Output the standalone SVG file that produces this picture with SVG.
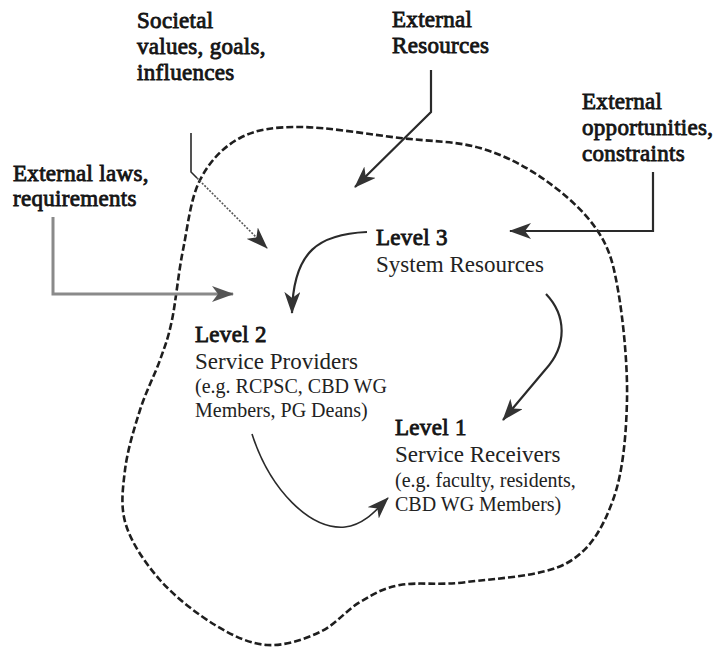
<svg xmlns="http://www.w3.org/2000/svg" width="725" height="648" viewBox="0 0 725 648">
<defs>
<style>
.b{font-family:"Liberation Serif","Times New Roman",serif;font-weight:normal;font-size:23px;fill:#151515;stroke:#151515;stroke-width:0.85;letter-spacing:0.3px}
.r{font-family:"Liberation Serif","Times New Roman",serif;font-size:23px;fill:#222}
.s{font-family:"Liberation Serif","Times New Roman",serif;font-size:20px;fill:#222}
.arr{fill:none;stroke:#2a2a2a;stroke-width:2.2}
.thin{fill:none;stroke:#2a2a2a;stroke-width:1.6}
.gray{fill:none;stroke:#8a8a8a;stroke-width:3}
.dot{fill:none;stroke:#555;stroke-width:1.6;stroke-dasharray:2 1.5}
.blob{fill:none;stroke:#1e1e1e;stroke-width:2.6;stroke-dasharray:7 3}
</style>
<marker id="ah" viewBox="0 0 22 16" markerUnits="userSpaceOnUse" markerWidth="22" markerHeight="16" refX="21" refY="8" orient="auto">
<path d="M0,0 L22,8 L0,16 L6,8 Z" fill="#333"/>
</marker>
<marker id="ahg" viewBox="0 0 22 16" markerUnits="userSpaceOnUse" markerWidth="22" markerHeight="16" refX="21" refY="8" orient="auto">
<path d="M0,0 L22,8 L0,16 L6,8 Z" fill="#555"/>
</marker>
</defs>
<rect width="725" height="648" fill="#fff"/>

<g id="boundary">
<path class="blob" d="M172,320 C175.8,301.7 178.3,273.3 183,250 C187.7,226.7 190.5,198.7 200,180 C209.5,161.3 223.3,146.8 240,138 C256.7,129.2 273.3,127 300,127 C326.7,127 370,134.5 400,138 C430,141.5 455.8,141 480,148 C504.2,155 525.5,166.3 545,180 C564.5,193.7 584.8,211.7 597,230 C609.2,248.3 613,261.7 618,290 C623,318.3 627.8,365 627,400 C626.2,435 623,472.8 613,500 C603,527.2 591.3,549.3 567,563 C542.7,576.7 494.8,578.3 467,582 C439.2,585.7 417.8,581.7 400,585 C382.2,588.3 373.3,594.2 360,602 C346.7,609.8 335.5,624.8 320,632 C304.5,639.2 284.5,646.2 267,645 C249.5,643.8 232.8,635.8 215,625 C197.2,614.2 174.8,596.7 160,580 C145.2,563.3 131.8,543.3 126,525 C120.2,506.7 122.7,489.2 125,470 C127.3,450.8 134.2,428.3 140,410 C145.8,391.7 154.7,375 160,360 C165.3,345 168.2,338.3 172,320 Z"/>
</g>

<g id="connectors">
<path class="thin" d="M191,133 V172 L197,178"/>
<path class="dot" d="M197,178 L267,248" marker-end="url(#ah)"/>
<path class="arr" d="M431,70 V112 L355,187" marker-end="url(#ah)"/>
<path class="arr" d="M653,172 V231 H510" marker-end="url(#ah)"/>
<path class="gray" d="M53,217 V294 H233" marker-end="url(#ahg)"/>
<path class="arr" d="M367,232 C320,234 293,250 292,313" marker-end="url(#ah)"/>
<path class="arr" d="M546,294 C566,315 568,345 545,370 L503,420" marker-end="url(#ah)"/>
<path class="thin" d="M252,434 C270,490 310,530 345,527 C365,525 378,508 388,498" marker-end="url(#ah)"/>
</g>

<g id="societal">
<text class="b" x="137" y="28">Societal</text>
<text class="b" x="137" y="54">values, goals,</text>
<text class="b" x="137" y="80">influences</text>
</g>
<g id="external-resources">
<text class="b" x="392" y="27">External</text>
<text class="b" x="392" y="53">Resources</text>
</g>
<g id="external-opportunities">
<text class="b" x="582" y="109">External</text>
<text class="b" x="582" y="135">opportunities,</text>
<text class="b" x="582" y="161">constraints</text>
</g>
<g id="external-laws">
<text class="b" x="13" y="181">External laws,</text>
<text class="b" x="13" y="206">requirements</text>
</g>
<g id="level3">
<text class="b" x="376" y="245">Level 3</text>
<text class="r" x="376" y="272">System Resources</text>
</g>
<g id="level2">
<text class="b" x="195" y="342">Level 2</text>
<text class="r" x="195" y="369">Service Providers</text>
<text class="s" x="195" y="393">(e.g. RCPSC, CBD WG</text>
<text class="s" x="195" y="417">Members, PG Deans)</text>
</g>
<g id="level1">
<text class="b" x="395" y="435">Level 1</text>
<text class="r" x="395" y="462">Service Receivers</text>
<text class="s" x="395" y="487">(e.g. faculty, residents,</text>
<text class="s" x="395" y="511">CBD WG Members)</text>
</g>
</svg>
